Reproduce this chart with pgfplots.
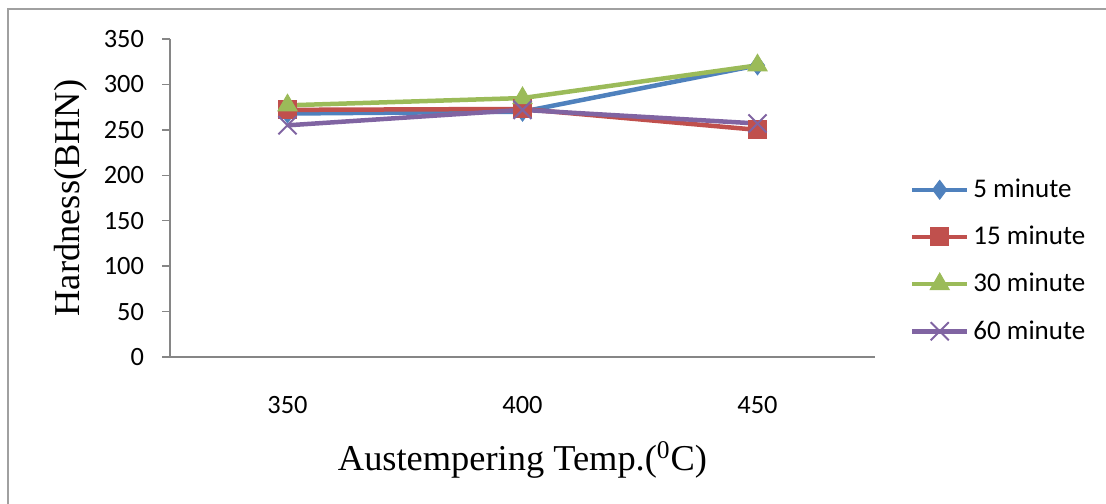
\documentclass[border=0pt]{standalone}
\usepackage{pgfplots}
\pgfplotsset{compat=1.18}
\usepackage{fontspec}
\setmainfont{Liberation Serif}
\newfontfamily\carlito{Carlito}
\definecolor{xlblue}{HTML}{4F81BD}
\definecolor{xlred}{HTML}{C0504D}
\definecolor{xlgreen}{HTML}{9BBB59}
\definecolor{xlpurple}{HTML}{8064A2}
\definecolor{axgray}{HTML}{868686}
\definecolor{framegray}{HTML}{A0A0A0}
\begin{document}
\begin{tikzpicture}
\useasboundingbox (0,0) rectangle (553pt,-251.5pt);
% chart frame (top and left edges)
\draw[framegray, line width=1.2pt] (4pt,-252pt) -- (4pt,-4.5pt) -- (554pt,-4.5pt);
\begin{axis}[
  at={(85pt,-178.5pt)}, anchor=south west,
  scale only axis, width=352.5pt, height=159pt,
  xmin=-0.5, xmax=2.5, ymin=0, ymax=350,
  xtick={0,1,2}, xticklabels={350,400,450},
  ytick={0,50,...,350},
  axis x line*=bottom, axis y line*=left,
  axis line style={axgray, line width=0.75pt, -},
  x axis line style={-}, y axis line style={-},
  major tick length=4pt, tick align=outside,
  ytick style={axgray, line width=0.75pt},
  xtick style={draw=none},
  ticklabel style={font=\carlito\fontsize{13.2}{15}\selectfont},
  /pgf/number format/assume math mode=true,
  xticklabel style={yshift=-12pt},
  yticklabel style={xshift=-5.5pt},
  xlabel={Austempering Temp.(\textsuperscript{0}C)},
  ylabel={Hardness(BHN)},
  label style={font=\fontsize{18.2}{20}\selectfont},
  xlabel style={at={(axis description cs:0.5,-0.3239)}, anchor=center},
  ylabel style={at={(axis description cs:-0.1405,0.5)}, anchor=center},
  legend style={draw=none, fill=none, at={(axis description cs:1.049,0.3034)}, anchor=west,
    font=\carlito\fontsize{13.5}{15}\selectfont, row sep=8.8pt, inner sep=0pt},
  legend cell align=left,
  legend image code/.code={\draw[mark repeat=2,mark phase=2] plot coordinates {(0pt,0pt) (13.75pt,0pt) (27.5pt,0pt)};},
  every axis plot/.append style={line width=2.25pt},
]
\addplot[xlblue, mark=diamond*, mark size=4.7pt, mark options={solid, line width=0.5pt}]
  coordinates {(0,268) (1,270) (2,321)};
\addlegendentry{5 minute}
\addplot[xlred, mark=square*, mark size=4.5pt, mark options={solid, line width=0.5pt}]
  coordinates {(0,272) (1,273) (2,250)};
\addlegendentry{15 minute}
\addplot[xlgreen, mark=triangle*, mark size=5.5pt, mark options={solid, line width=0.5pt}]
  coordinates {(0,277) (1,285) (2,321)};
\addlegendentry{30 minute}
\addplot[xlpurple, mark=x, mark size=6.4pt, mark options={solid, line width=1pt}]
  coordinates {(0,255) (1,272) (2,257)};
\addlegendentry{60 minute}
\end{axis}
\end{tikzpicture}
\end{document}
